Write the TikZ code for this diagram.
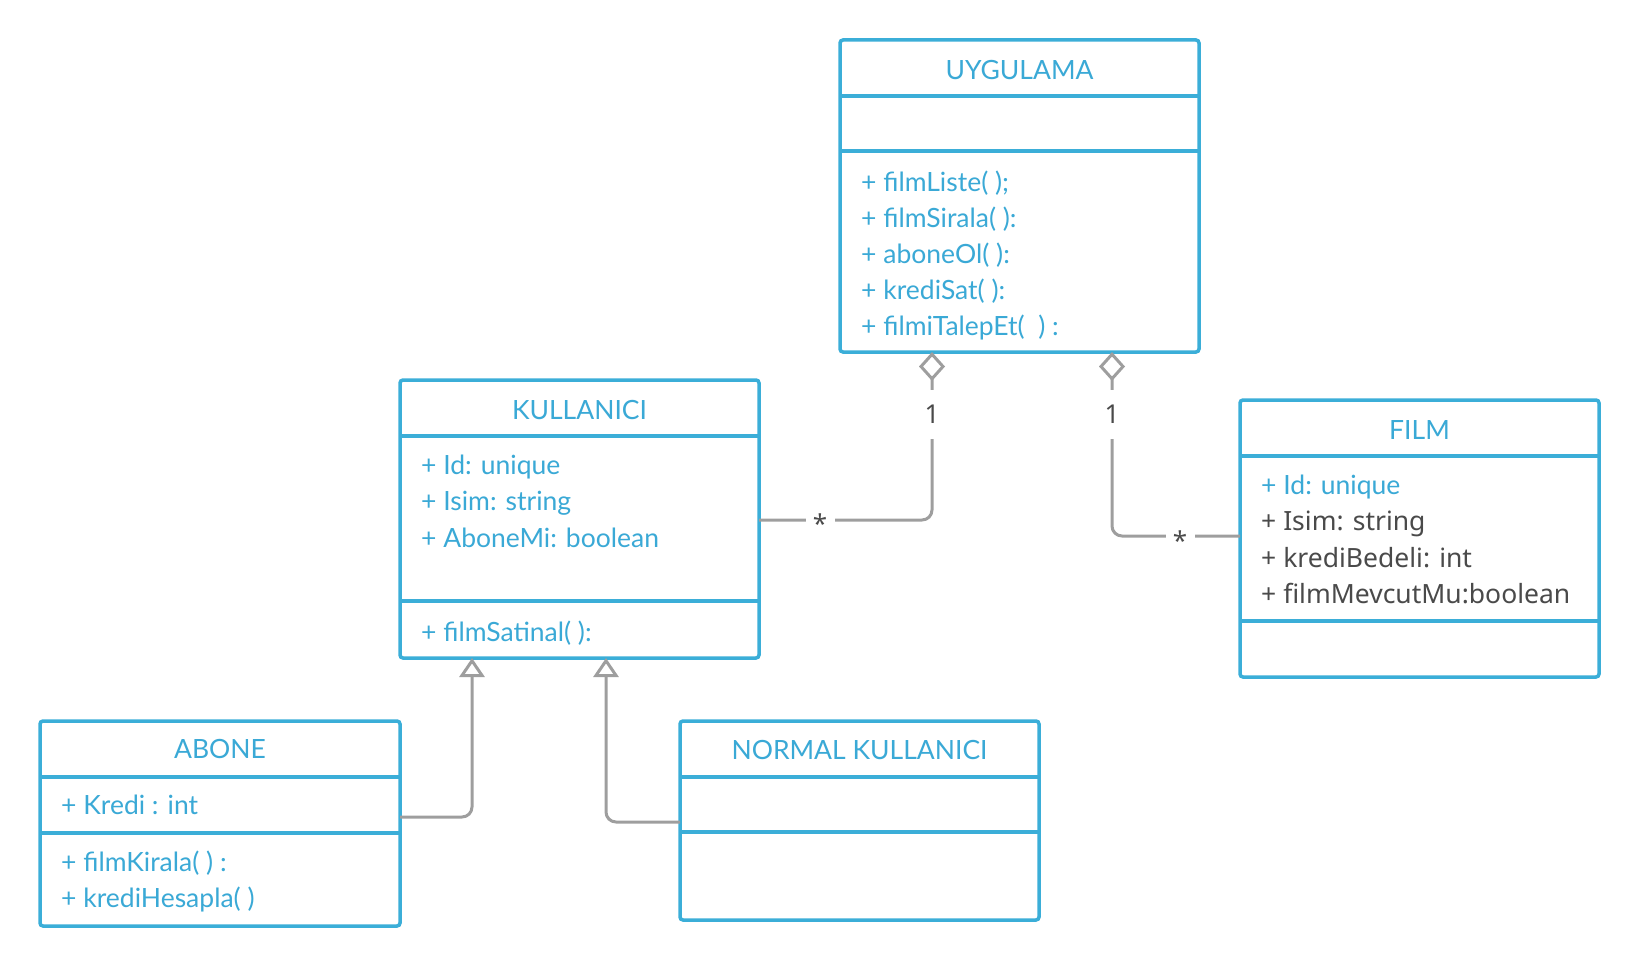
\documentclass[tikz,border=0pt]{standalone}
\usepackage{fontspec}
\setmainfont{Lato}
\newfontfamily\grayfont{Noto Sans}
\usetikzlibrary{arrows.meta,shapes.geometric}
\definecolor{umlblue}{HTML}{3BAED8}
\definecolor{umltext}{HTML}{3AA9D6}
\definecolor{lnkgray}{HTML}{9E9E9E}
\definecolor{darktxt}{HTML}{4A4A4A}
\begin{document}
\begin{tikzpicture}[x=1pt,y=-1pt,
  classbox/.style={draw=umlblue,line width=3.5pt,rounded corners=3pt,fill=white,anchor=north west,outer sep=0pt,inner sep=0pt},
  divider/.style={draw=umlblue,line width=3.5pt},
  ttl/.style={text=umltext,font=\fontsize{26.5}{31}\selectfont,anchor=base,inner sep=0pt},
  attr/.style={text=umltext,font=\fontsize{26.5}{31}\selectfont,anchor=base west,inner sep=0pt},
  attrgray/.style={attr,text=darktxt,font=\grayfont\fontsize{26.5}{31}\selectfont},
  assoc/.style={draw=lnkgray,line width=3pt,rounded corners=10pt},
  gen/.style={draw=lnkgray,line width=3pt,rounded corners=10pt,-{Triangle[open,length=19pt,width=25pt]}},
  agg/.style={assoc,{Diamond[open,length=29pt,width=26pt]}-},
  mult/.style={text=darktxt,font=\grayfont\fontsize{26}{30}\selectfont,fill=white,inner xsep=0pt,inner ysep=2pt}
]
\useasboundingbox (0,0) rectangle (1640,966);

% UYGULAMA
\node[classbox,minimum width=359pt,minimum height=312pt] (uyg) at (840,40) {};
\draw[divider] (uyg.west |- 0,96) -- (uyg.east |- 0,96);
\draw[divider] (uyg.west |- 0,151) -- (uyg.east |- 0,151);
\node[ttl] (uygt) at (1019.5,79) {UYGULAMA};
\node[attr] (u1) at (861,191) {+ filmListe( );};
\node[attr] (u2) at (861,227) {+ filmSirala( ):};
\node[attr] (u3) at (861,263) {+ aboneOl( ):};
\node[attr] (u4) at (861,299) {+ krediSat( ):};
\node[attr] (u5) at (861,335) {+ filmiTalepEt(\ \ ) :};

% KULLANICI
\node[classbox,minimum width=359pt,minimum height=278pt] (kul) at (400,380) {};
\draw[divider] (kul.west |- 0,436) -- (kul.east |- 0,436);
\draw[divider] (kul.west |- 0,601) -- (kul.east |- 0,601);
\node[ttl] (kult) at (579.5,419) {KULLANICI};
\node[attr] (k1) at (421,474) {+ Id: unique};
\node[attr] (k2) at (421,510) {+ Isim: string};
\node[attr] (k3) at (421,547) {+ AboneMi: boolean};
\node[attr] (k4) at (421,641) {+ filmSatinal( ):};

% FILM
\node[classbox,minimum width=359pt,minimum height=277pt] (film) at (1240,400) {};
\draw[divider] (film.west |- 0,456) -- (film.east |- 0,456);
\draw[divider] (film.west |- 0,621) -- (film.east |- 0,621);
\node[ttl] (filmt) at (1419.5,439) {FILM};
\node[attr] (f1) at (1261,494) {+ Id: unique};
\node[attrgray] (f2) at (1261,530) {+ Isim: string};
\node[attrgray] (f3) at (1261,567) {+ krediBedeli: int};
\node[attrgray] (f4) at (1261,603) {+ filmMevcutMu:boolean};

% ABONE
\node[classbox,minimum width=360pt,minimum height=205pt] (abone) at (40,721) {};
\draw[divider] (abone.west |- 0,777) -- (abone.east |- 0,777);
\draw[divider] (abone.west |- 0,833) -- (abone.east |- 0,833);
\node[ttl] (abonet) at (220,758) {ABONE};
\node[attr] (a1) at (61,814) {+ Kredi : int};
\node[attr] (a2) at (61,871) {+ filmKirala( ) :};
\node[attr] (a3) at (61,907) {+ krediHesapla( )};

% NORMAL KULLANICI
\node[classbox,minimum width=359pt,minimum height=199pt] (normal) at (680,721) {};
\draw[divider] (normal.west |- 0,777) -- (normal.east |- 0,777);
\draw[divider] (normal.west |- 0,832) -- (normal.east |- 0,832);
\node[ttl] (normalt) at (859.5,759) {NORMAL KULLANICI};

% associations (aggregation)
\draw[agg] (uyg.south -| 932,0) -- (932,520) -- (kul.east |- 0,520);
\draw[agg] (uyg.south -| 1112,0) -- (1112,536) -- (film.west |- 0,536);
\node[mult,minimum height=49pt] (m1) at (932,414.5) {1};
\node[mult,minimum height=49pt] (m2) at (1112,414.5) {1};
\node[mult,minimum width=29pt] (s1) at (820,523.5) {*};
\node[mult,minimum width=29pt] (s2) at (1180,540.5) {*};

% generalizations
\draw[gen] (abone.east |- 0,817) -- (472,817) -- (kul.south -| 472,0);
\draw[gen] (normal.west |- 0,822) -- (606,822) -- (kul.south -| 606,0);
\end{tikzpicture}
\end{document}
